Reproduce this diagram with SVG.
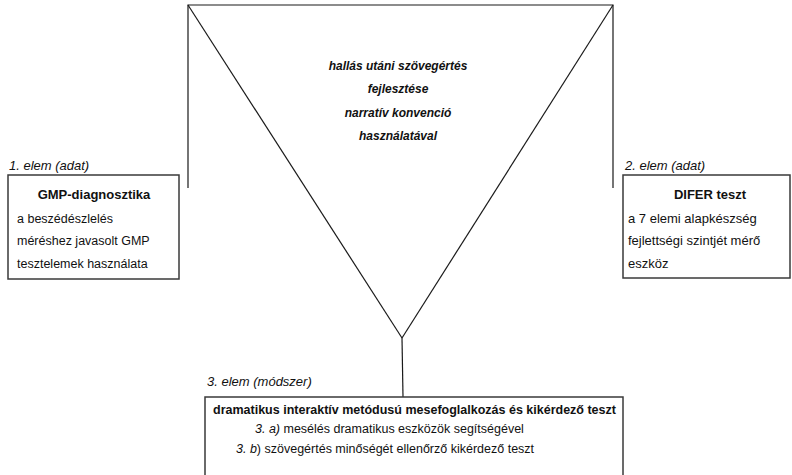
<svg xmlns="http://www.w3.org/2000/svg" width="792" height="475" viewBox="0 0 792 475">
<style>
  .bg{fill:#ffffff}
  .ln{stroke:#1a1a1a;stroke-width:1.2;fill:none}
  .box{stroke:#3a3a3a;stroke-width:1.5;fill:#ffffff}
  text{font-family:"Liberation Sans",Arial,sans-serif;font-size:13px;fill:#111111}
  .b{font-weight:bold}
  .i{font-style:italic}
  .bi{font-weight:bold;font-style:italic;font-size:12px}
  .c{text-anchor:middle}
  .s{font-size:12.5px}
</style>
<rect class="bg" x="0" y="0" width="792" height="475"/>
<g id="connectors">
  <polyline class="ln" points="188,188 188,5 613,5 613,188"/>
  <line class="ln" x1="188" y1="5" x2="402" y2="338"/>
  <line class="ln" x1="613" y1="5" x2="402" y2="338"/>
  <line class="ln" x1="402" y1="338" x2="403" y2="397"/>
</g>
<g id="center">
  <text class="bi c" x="398" y="70">hallás utáni szövegértés</text>
  <text class="bi c" x="398" y="93">fejlesztése</text>
  <text class="bi c" x="398" y="117">narratív konvenció</text>
  <text class="bi c" x="398" y="140">használatával</text>
</g>
<g id="node1">
  <text class="i" x="9" y="170">1. elem (adat)</text>
  <rect class="box" x="8" y="175" width="171" height="104"/>
  <text class="b c" x="94" y="199">GMP-diagnosztika</text>
  <text class="s" x="17" y="223">a beszédészlelés</text>
  <text class="s" x="17" y="245">méréshez javasolt GMP</text>
  <text class="s" x="17" y="268">tesztelemek használata</text>
</g>
<g id="node2">
  <text class="i" x="625" y="170">2. elem (adat)</text>
  <rect class="box" x="623" y="175" width="167" height="103"/>
  <text class="b c" x="710" y="199">DIFER teszt</text>
  <text x="628" y="223">a 7 elemi alapkészség</text>
  <text x="628" y="245">fejlettségi szintjét mérő</text>
  <text x="628" y="268">eszköz</text>
</g>
<g id="node3">
  <text class="i" x="207" y="386">3. elem (módszer)</text>
  <rect class="box" x="205" y="397" width="418" height="90"/>
  <text class="b s" x="213" y="414">dramatikus interaktív metódusú mesefoglalkozás és kikérdező teszt</text>
  <text class="s" x="255" y="433"><tspan class="i">3. a)</tspan> mesélés dramatikus eszközök segítségével</text>
  <text class="s" x="236" y="453"><tspan class="i">3. b</tspan>) szövegértés minőségét ellenőrző kikérdező teszt</text>
</g>
</svg>
